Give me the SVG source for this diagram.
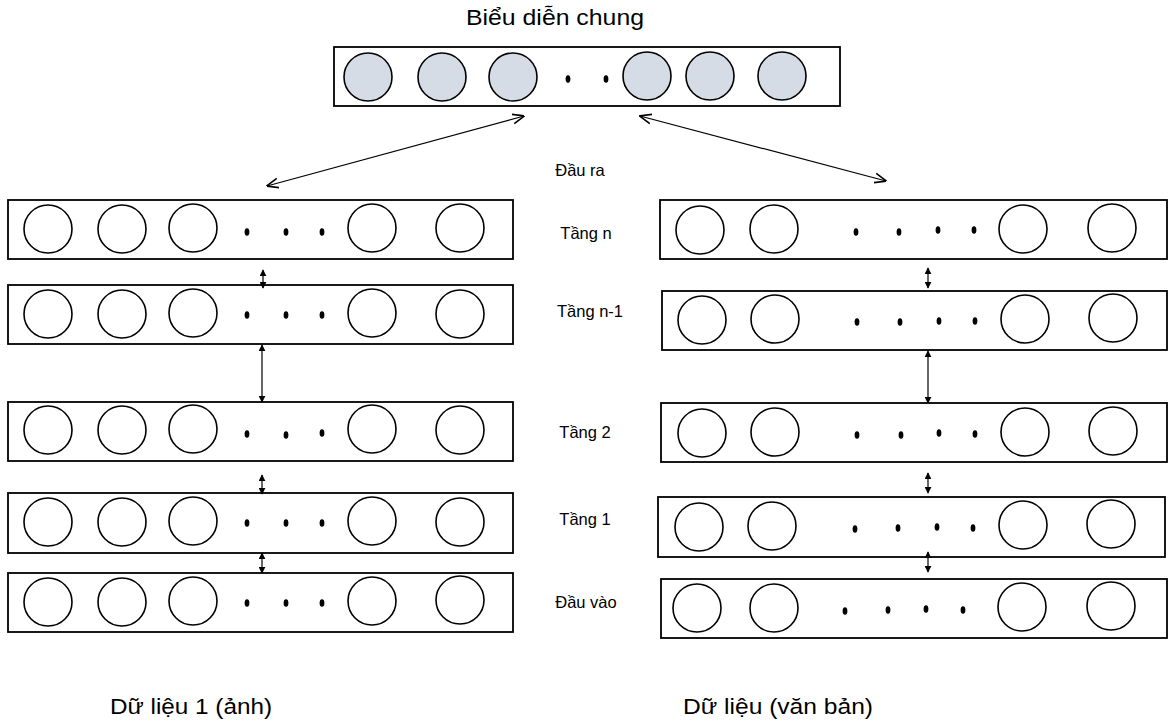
<svg xmlns="http://www.w3.org/2000/svg" width="1170" height="724" viewBox="0 0 1170 724">
<style>
.box{fill:#fff;stroke:#000;stroke-width:1.8}
.n{fill:#fff;stroke:#000;stroke-width:1.6}
.g{fill:#D6DCE5;stroke:#000;stroke-width:1.6}
.d{fill:#000}
.lbl{font-family:"Liberation Sans",Arial,sans-serif;font-size:16.5px;fill:#000;text-anchor:middle}
.big{font-family:"Liberation Sans",Arial,sans-serif;font-size:22.5px;fill:#000}
.c{fill:none;stroke:#000;stroke-width:1.2}
</style>
<defs>
<marker id="ah" viewBox="0 0 10 10" refX="9" refY="5" markerWidth="7" markerHeight="7" markerUnits="userSpaceOnUse" orient="auto-start-reverse">
<path d="M0,0 L10,5 L0,10 z" fill="#000"/>
</marker>
<marker id="ao" viewBox="0 0 10 10" refX="9.5" refY="5" markerWidth="12" markerHeight="12" markerUnits="userSpaceOnUse" orient="auto-start-reverse">
<path d="M0,1 L10,5 L0,9" fill="none" stroke="#000" stroke-width="1.4"/>
</marker>
</defs>
<rect width="1170" height="724" fill="#fff"/>

<text class="big" x="466" y="25" textLength="178" lengthAdjust="spacingAndGlyphs">Biểu diễn chung</text>

<g id="shared">
<rect class="box" x="334" y="47" width="506" height="59"/>
<circle class="g" cx="368" cy="77" r="24"/>
<circle class="g" cx="442" cy="77" r="24"/>
<circle class="g" cx="513" cy="77" r="24"/>
<circle class="g" cx="647" cy="76" r="24"/>
<circle class="g" cx="710" cy="76" r="24"/>
<circle class="g" cx="782" cy="76" r="24"/>
<ellipse class="d" cx="568" cy="79" rx="2.4" ry="3.8"/>
<ellipse class="d" cx="606" cy="79" rx="2.4" ry="3.8"/>
</g>

<g id="L-n">
<rect class="box" x="8" y="200" width="505" height="59"/>
<circle class="n" cx="48" cy="229" r="24"/><circle class="n" cx="122" cy="229" r="24"/><circle class="n" cx="193" cy="228" r="24"/><circle class="n" cx="372" cy="228" r="24"/><circle class="n" cx="460" cy="228" r="24"/>
<ellipse class="d" cx="247" cy="232" rx="2.4" ry="3.8"/><ellipse class="d" cx="286" cy="232" rx="2.4" ry="3.8"/><ellipse class="d" cx="322" cy="232" rx="2.4" ry="3.8"/>
</g>
<g id="L-n1">
<rect class="box" x="8" y="285" width="505" height="59"/>
<circle class="n" cx="48" cy="314" r="24"/><circle class="n" cx="122" cy="314" r="24"/><circle class="n" cx="193" cy="313" r="24"/><circle class="n" cx="372" cy="313" r="24"/><circle class="n" cx="460" cy="314" r="24"/>
<ellipse class="d" cx="247" cy="315" rx="2.4" ry="3.8"/><ellipse class="d" cx="286" cy="315" rx="2.4" ry="3.8"/><ellipse class="d" cx="322" cy="315" rx="2.4" ry="3.8"/>
</g>
<g id="L-2">
<rect class="box" x="8" y="402" width="505" height="59"/>
<circle class="n" cx="48" cy="430" r="24"/><circle class="n" cx="122" cy="430" r="24"/><circle class="n" cx="193" cy="429" r="24"/><circle class="n" cx="372" cy="429" r="24"/><circle class="n" cx="460" cy="430" r="24"/>
<ellipse class="d" cx="247" cy="434" rx="2.4" ry="3.8"/><ellipse class="d" cx="286" cy="435" rx="2.4" ry="3.8"/><ellipse class="d" cx="322" cy="433" rx="2.4" ry="3.8"/>
</g>
<g id="L-1">
<rect class="box" x="8" y="493" width="505" height="60"/>
<circle class="n" cx="48" cy="522" r="24"/><circle class="n" cx="122" cy="522" r="24"/><circle class="n" cx="193" cy="521" r="24"/><circle class="n" cx="372" cy="521" r="24"/><circle class="n" cx="460" cy="522" r="24"/>
<ellipse class="d" cx="247" cy="523" rx="2.4" ry="3.8"/><ellipse class="d" cx="286" cy="523" rx="2.4" ry="3.8"/><ellipse class="d" cx="322" cy="523" rx="2.4" ry="3.8"/>
</g>
<g id="L-in">
<rect class="box" x="8" y="573" width="505" height="59"/>
<circle class="n" cx="48" cy="602" r="24"/><circle class="n" cx="122" cy="602" r="24"/><circle class="n" cx="193" cy="601" r="24"/><circle class="n" cx="372" cy="601" r="24"/><circle class="n" cx="460" cy="600" r="24"/>
<ellipse class="d" cx="247" cy="603" rx="2.4" ry="3.8"/><ellipse class="d" cx="286" cy="603" rx="2.4" ry="3.8"/><ellipse class="d" cx="322" cy="603" rx="2.4" ry="3.8"/>
</g>

<g id="R-n">
<rect class="box" x="660" y="200" width="507" height="59"/>
<circle class="n" cx="700" cy="230" r="24"/><circle class="n" cx="774" cy="229" r="24"/><circle class="n" cx="1023" cy="229" r="24"/><circle class="n" cx="1112" cy="228" r="24"/>
<ellipse class="d" cx="856" cy="232" rx="2.4" ry="3.8"/><ellipse class="d" cx="899" cy="232" rx="2.4" ry="3.8"/><ellipse class="d" cx="938" cy="230" rx="2.4" ry="3.8"/><ellipse class="d" cx="974" cy="230" rx="2.4" ry="3.8"/>
</g>
<g id="R-n1">
<rect class="box" x="662" y="291" width="505" height="59"/>
<circle class="n" cx="702" cy="320" r="24"/><circle class="n" cx="775" cy="319" r="24"/><circle class="n" cx="1025" cy="319" r="24"/><circle class="n" cx="1113" cy="318" r="24"/>
<ellipse class="d" cx="857" cy="322" rx="2.4" ry="3.8"/><ellipse class="d" cx="900" cy="322" rx="2.4" ry="3.8"/><ellipse class="d" cx="939" cy="321" rx="2.4" ry="3.8"/><ellipse class="d" cx="975" cy="321" rx="2.4" ry="3.8"/>
</g>
<g id="R-2">
<rect class="box" x="661" y="403" width="506" height="59"/>
<circle class="n" cx="702" cy="433" r="24"/><circle class="n" cx="775" cy="432" r="24"/><circle class="n" cx="1025" cy="432" r="24"/><circle class="n" cx="1113" cy="431" r="24"/>
<ellipse class="d" cx="857" cy="435" rx="2.4" ry="3.8"/><ellipse class="d" cx="901" cy="435" rx="2.4" ry="3.8"/><ellipse class="d" cx="939" cy="433" rx="2.4" ry="3.8"/><ellipse class="d" cx="975" cy="434" rx="2.4" ry="3.8"/>
</g>
<g id="R-1">
<rect class="box" x="658" y="497" width="507" height="60"/>
<circle class="n" cx="699" cy="527" r="24"/><circle class="n" cx="772" cy="526" r="24"/><circle class="n" cx="1023" cy="525" r="24"/><circle class="n" cx="1111" cy="524" r="24"/>
<ellipse class="d" cx="855" cy="529" rx="2.4" ry="3.8"/><ellipse class="d" cx="898" cy="528" rx="2.4" ry="3.8"/><ellipse class="d" cx="937" cy="527" rx="2.4" ry="3.8"/><ellipse class="d" cx="973" cy="528" rx="2.4" ry="3.8"/>
</g>
<g id="R-in">
<rect class="box" x="661" y="579" width="506" height="59"/>
<circle class="n" cx="697" cy="608" r="24"/><circle class="n" cx="774" cy="608" r="24"/><circle class="n" cx="1022" cy="607" r="24"/><circle class="n" cx="1111" cy="606" r="24"/>
<ellipse class="d" cx="845" cy="611" rx="2.4" ry="3.8"/><ellipse class="d" cx="888" cy="610" rx="2.4" ry="3.8"/><ellipse class="d" cx="926" cy="609" rx="2.4" ry="3.8"/><ellipse class="d" cx="963" cy="610" rx="2.4" ry="3.8"/>
</g>

<g id="connectors">
<line class="c" x1="267" y1="186" x2="524" y2="116" marker-start="url(#ao)" marker-end="url(#ao)"/>
<line class="c" x1="640" y1="116" x2="886" y2="181" marker-start="url(#ao)" marker-end="url(#ao)"/>
<line class="c" x1="263" y1="270" x2="263" y2="288" marker-start="url(#ah)" marker-end="url(#ah)"/>
<line class="c" x1="262" y1="345" x2="262" y2="402" marker-start="url(#ah)" marker-end="url(#ah)"/>
<line class="c" x1="262" y1="475" x2="262" y2="494" marker-start="url(#ah)" marker-end="url(#ah)"/>
<line class="c" x1="262" y1="553" x2="262" y2="573" marker-start="url(#ah)" marker-end="url(#ah)"/>
<line class="c" x1="928" y1="268" x2="928" y2="288" marker-start="url(#ah)" marker-end="url(#ah)"/>
<line class="c" x1="928" y1="351" x2="928" y2="403" marker-start="url(#ah)" marker-end="url(#ah)"/>
<line class="c" x1="928" y1="473" x2="928" y2="493" marker-start="url(#ah)" marker-end="url(#ah)"/>
<line class="c" x1="928" y1="552" x2="928" y2="572" marker-start="url(#ah)" marker-end="url(#ah)"/>
</g>

<g id="labels">
<text class="lbl" x="580" y="176">Đầu ra</text>
<text class="lbl" x="586" y="239">Tầng n</text>
<text class="lbl" x="590" y="317">Tầng n-1</text>
<text class="lbl" x="585" y="438">Tầng 2</text>
<text class="lbl" x="585" y="525">Tầng 1</text>
<text class="lbl" x="586" y="608">Đầu vào</text>
<text class="big" x="110" y="714" textLength="162" lengthAdjust="spacingAndGlyphs">Dữ liệu 1 (ảnh)</text>
<text class="big" x="683" y="714" textLength="190" lengthAdjust="spacingAndGlyphs">Dữ liệu (văn bản)</text>
</g>
</svg>
